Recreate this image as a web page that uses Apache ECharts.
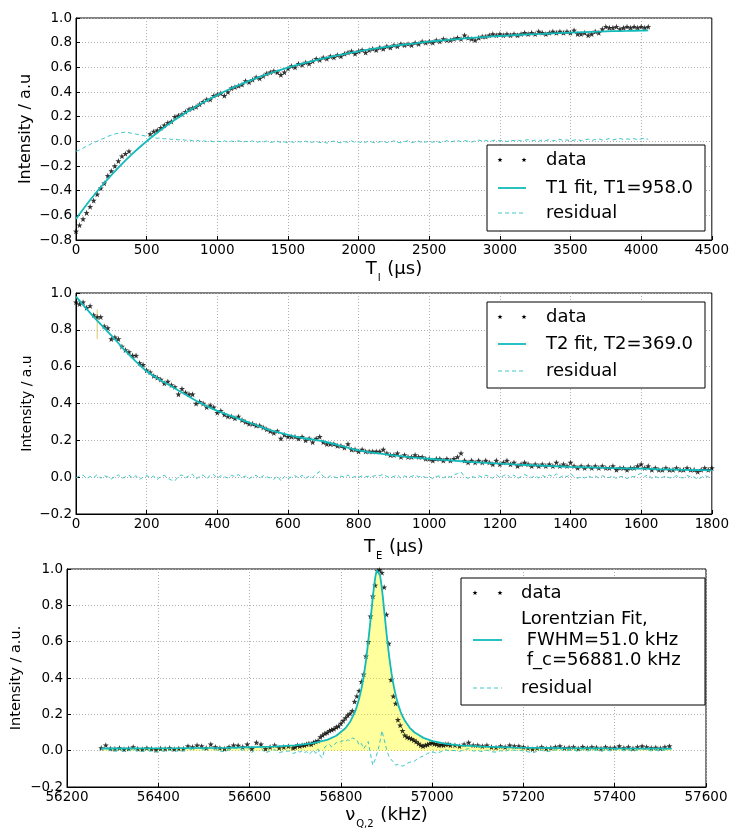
<!DOCTYPE html>
<html><head><meta charset="utf-8">
<script src="https://cdn.jsdelivr.net/npm/echarts/dist/echarts.min.js"></script>
<style>html,body{margin:0;padding:0;background:#fff}#c{width:732px;height:830px}</style>
</head><body><div id="c"></div>
<script>
// ---------- Plot 1: T1 (inversion recovery) ----------
const tiX = [0,25,50,75,100,125,150,175,200,225,250,275,300,325,350,375,
525,550,575,600,625,650,675,700,725,750,775,800,825,850,875,900,925,950,975,1000,
1025,1050,1075,1100,1125,1150,1175,1200,1225,1250,1275,1300,1325,1350,1375,1400,1425,1450,1475,1500,
1525,1550,1575,1600,1625,1650,1675,1700,1725,1750,1775,1800,1825,1850,1875,1900,1925,1950,1975,2000,
2025,2050,2075,2100,2125,2150,2175,2200,2225,2250,2275,2300,2325,2350,2375,2400,2425,2450,2475,2500,
2525,2550,2575,2600,2625,2650,2675,2700,2725,2750,2775,2800,2825,2850,2875,2900,2925,2950,2975,3000,
3025,3050,3075,3100,3125,3150,3175,3200,3225,3250,3275,3300,3325,3350,3375,3400,3425,3450,3475,3500,
3525,3550,3575,3600,3625,3650,3675,3700,3725,3750,3775,3800,3825,3850,3875,3900,3925,3950,3975,4000,
4025,4050];
const tiData = [-0.73,-0.68,-0.63,-0.58,-0.53,-0.48,-0.43,-0.38,-0.34,-0.28,-0.24,-0.20,-0.16,-0.12,-0.10,-0.08,
0.06,0.08,0.09,0.11,0.13,0.15,0.16,0.20,0.21,0.22,0.24,0.26,0.27,0.28,0.30,0.32,0.34,0.34,0.37,0.38,
0.39,0.37,0.40,0.43,0.44,0.45,0.46,0.49,0.48,0.50,0.52,0.51,0.53,0.55,0.56,0.57,0.56,0.54,0.56,0.59,
0.61,0.60,0.63,0.62,0.64,0.63,0.65,0.67,0.66,0.68,0.67,0.69,0.68,0.70,0.69,0.71,0.72,0.73,0.71,0.73,
0.74,0.72,0.74,0.75,0.74,0.76,0.75,0.77,0.76,0.78,0.77,0.79,0.78,0.79,0.78,0.80,0.79,0.81,0.80,0.81,
0.80,0.82,0.81,0.83,0.82,0.82,0.83,0.84,0.83,0.86,0.84,0.83,0.82,0.84,0.85,0.85,0.86,0.87,0.86,0.87,
0.86,0.87,0.86,0.87,0.86,0.87,0.88,0.87,0.88,0.87,0.89,0.88,0.87,0.88,0.89,0.88,0.89,0.88,0.89,0.88,
0.90,0.87,0.87,0.88,0.86,0.87,0.89,0.88,0.91,0.93,0.92,0.92,0.93,0.91,0.92,0.93,0.92,0.93,0.92,0.93,
0.92,0.93];
const tiResid = [-0.08,-0.07,-0.055,-0.04,-0.025,-0.01,0.0,0.015,0.025,0.04,0.05,0.06,0.065,0.07,0.075,0.07,
0.035,0.03,0.025,0.028,0.02,0.024,0.015,0.02,0.012,0.016,0.008,0.012,0.004,0.01,0.002,0.006,-0.002,0.004,-0.004,0.002,
-0.003,0.005,-0.006,0.002,-0.004,0.006,-0.008,0.0,-0.005,0.004,-0.01,-0.002,-0.006,0.003,-0.009,-0.004,0.002,-0.01,-0.005,-0.012,
-0.004,-0.01,-0.002,-0.008,0.002,-0.012,-0.006,0.0,-0.01,-0.004,-0.014,-0.006,0.002,-0.008,-0.012,-0.002,-0.008,0.004,-0.01,-0.004,
-0.012,-0.006,0.002,-0.008,-0.014,-0.004,0.003,-0.01,-0.006,0.004,-0.008,-0.012,-0.002,0.004,-0.01,-0.004,0.002,-0.012,-0.006,0.0,
-0.008,0.003,-0.01,-0.004,0.005,-0.006,0.002,0.008,-0.004,0.006,0.0,-0.006,0.004,0.01,0.002,0.008,-0.002,0.006,0.012,0.004,
0.008,-0.002,0.01,0.004,0.012,0.002,0.008,0.014,0.004,0.01,0.0,0.012,0.006,0.014,0.004,0.01,0.016,0.006,0.012,0.002,
0.01,0.016,0.006,0.012,0.018,0.008,0.014,0.02,0.01,0.016,0.022,0.012,0.018,0.024,0.014,0.02,0.016,0.022,0.012,0.02,
0.024,0.016];
const tiFitX = [0,100,200,300,400,500,600,700,800,900,1000,1100,1200,1300,1400,1500,1600,1700,1800,1900,2000,
2100,2200,2300,2400,2500,2600,2700,2800,2900,3000,3100,3200,3300,3400,3500,3600,3700,3800,3900,4000,4050];
const tiFitY = [-0.630,-0.476,-0.338,-0.213,-0.100,0.001,0.092,0.175,0.249,0.315,0.375,0.430,0.478,0.522,0.562,0.598,0.630,0.659,0.685,0.708,0.730,
0.749,0.766,0.781,0.795,0.808,0.819,0.829,0.839,0.847,0.854,0.861,0.867,0.872,0.877,0.882,0.886,0.889,0.893,0.895,0.898,0.899];

// ---------- Plot 2: T2 (echo decay) ----------
const teX = [0,10,20,30,40,50,60,70,80,90,100,110,120,130,140,150,160,170,180,190,
200,210,220,230,240,250,260,270,280,290,300,310,320,330,340,350,360,370,380,390,
400,410,420,430,440,450,460,470,480,490,500,510,520,530,540,550,560,570,580,590,
600,610,620,630,640,650,660,670,680,690,700,710,720,730,740,750,760,770,780,790,
800,810,820,830,840,850,860,870,880,890,900,910,920,930,940,950,960,970,980,990,
1000,1010,1020,1030,1040,1050,1060,1070,1080,1090,1100,1110,1120,1130,1140,1150,1160,1170,1180,1190,
1200,1210,1220,1230,1240,1250,1260,1270,1280,1290,1300,1310,1320,1330,1340,1350,1360,1370,1380,1390,
1400,1410,1420,1430,1440,1450,1460,1470,1480,1490,1500,1510,1520,1530,1540,1550,1560,1570,1580,1590,
1600,1610,1620,1630,1640,1650,1660,1670,1680,1690,1700,1710,1720,1730,1740,1750,1760,1770,1780,1790,1800];
const teData = [0.95,0.94,0.95,0.92,0.93,0.88,0.87,0.87,0.82,0.81,0.75,0.76,0.75,0.71,0.69,0.68,0.66,0.66,0.62,0.61,
0.58,0.57,0.55,0.54,0.53,0.51,0.52,0.50,0.49,0.45,0.48,0.46,0.45,0.45,0.40,0.41,0.40,0.38,0.39,0.38,
0.35,0.36,0.34,0.33,0.33,0.32,0.33,0.31,0.30,0.29,0.29,0.28,0.28,0.27,0.26,0.25,0.24,0.25,0.21,0.23,
0.22,0.22,0.22,0.21,0.22,0.20,0.21,0.19,0.21,0.22,0.19,0.18,0.18,0.18,0.17,0.17,0.16,0.18,0.15,0.15,
0.14,0.15,0.14,0.14,0.14,0.14,0.14,0.15,0.13,0.12,0.12,0.13,0.11,0.12,0.11,0.11,0.12,0.11,0.11,0.10,
0.10,0.09,0.10,0.10,0.09,0.10,0.09,0.10,0.11,0.13,0.09,0.08,0.09,0.08,0.09,0.08,0.09,0.08,0.07,0.09,
0.07,0.08,0.09,0.07,0.08,0.06,0.07,0.08,0.07,0.06,0.07,0.06,0.07,0.06,0.07,0.06,0.08,0.06,0.07,0.06,
0.08,0.06,0.05,0.06,0.05,0.06,0.05,0.06,0.05,0.06,0.05,0.05,0.06,0.04,0.05,0.05,0.04,0.05,0.05,0.06,
0.07,0.05,0.06,0.04,0.05,0.04,0.04,0.05,0.04,0.04,0.05,0.04,0.04,0.05,0.04,0.04,0.03,0.04,0.05,0.04,0.05];
const teResid = [-0.004,0.006,0.012,-0.008,0.004,-0.002,0.014,-0.006,0.008,0.002,
-0.01,0.004,0.012,-0.006,0.002,0.01,-0.004,0.008,-0.012,0.0,
0.01,-0.004,0.006,-0.012,0.004,0.01,-0.006,-0.016,-0.02,0.006,
0.012,-0.004,0.008,0.016,-0.01,0.004,0.012,-0.008,0.01,0.014,
-0.006,0.008,0.002,-0.004,0.01,0.004,0.014,-0.002,0.006,-0.008,
0.004,0.01,-0.006,0.008,0.002,-0.004,-0.012,0.006,-0.02,0.004,
-0.008,0.002,0.008,-0.004,0.01,-0.006,0.006,-0.002,0.018,0.03,
0.004,-0.006,0.008,0.002,-0.004,0.006,0.0,0.012,-0.004,0.004,
-0.002,0.008,0.002,0.006,0.004,0.01,0.008,0.016,0.004,-0.002,
0.004,0.012,-0.006,0.006,0.0,0.004,0.012,0.002,0.006,-0.002,
0.002,-0.008,0.004,0.006,-0.004,0.008,0.0,0.012,0.02,0.028,
0.002,-0.006,0.004,-0.002,0.008,0.0,0.01,0.004,-0.006,0.014,
-0.004,0.008,0.016,-0.004,0.012,-0.008,0.004,0.014,0.006,-0.002,
0.008,-0.004,0.01,0.0,0.012,0.002,0.018,-0.002,0.01,0.002,
0.02,0.002,-0.006,0.004,-0.004,0.008,-0.002,0.006,-0.004,0.008,
0.0,-0.002,0.01,-0.01,0.002,0.004,-0.008,0.004,0.002,0.012,
0.022,0.004,0.014,-0.006,0.004,-0.004,-0.002,0.008,-0.004,-0.002,
0.008,-0.002,-0.004,0.01,0.0,0.001,-0.012,-0.002,0.01,0.0,0.012];
const teFitX = [0,50,100,150,200,250,300,350,400,450,500,550,600,650,700,750,800,850,900,950,
1000,1050,1100,1150,1200,1250,1300,1350,1400,1450,1500,1550,1600,1650,1700,1750,1800];
const teFitY = [0.98,0.87,0.77,0.665,0.575,0.515,0.46,0.405,0.36,0.325,0.29,0.255,0.23,0.21,0.195,0.17,0.145,0.13,0.118,0.108,
0.10,0.092,0.085,0.079,0.073,0.068,0.064,0.06,0.056,0.053,0.05,0.048,0.046,0.043,0.041,0.039,0.037];
const teBarX = [60,60];
const teBarY = [0.75,0.91];

// ---------- Plot 3: NQR line ----------
const nuX = [56275,56285,56295,56305,56315,56325,56335,56345,56355,56365,56375,56385,56395,56405,56415,56425,56435,56445,56455,56465,
56475,56485,56495,56505,56515,56525,56535,56545,56555,56565,56575,56585,56595,56605,56615,56625,56635,56645,56655,56665,56675,56685,56695,
56700,56705,56710,56715,56720,56725,56730,56735,56740,56745,56750,56755,56760,56765,56770,56775,56780,56785,56790,56795,
56800,56805,56810,56815,56820,56825,56830,56835,56840,56845,56850,56855,56860,56865,56870,56875,56880,56885,56890,56895,
56900,56905,56910,56915,56920,56925,56930,56935,56940,56945,56950,56955,56960,56965,56970,56975,56980,56985,56990,56995,
57000,57005,57010,57015,57020,57025,57030,57035,57040,
57050,57060,57070,57080,57090,57100,57110,57120,57130,57140,57150,57160,57170,57180,57190,57200,57210,57220,57230,57240,
57250,57260,57270,57280,57290,57300,57310,57320,57330,57340,57350,57360,57370,57380,57390,57400,57410,57420,57430,57440,
57450,57460,57470,57480,57490,57500,57510,57520];
const nuData = [0.015,0.03,0.012,0.01,0.015,0.008,0.012,0.02,0.01,0.008,0.015,0.01,0.005,0.012,0.01,0.015,0.008,0.012,0.01,0.025,
0.02,0.03,0.025,0.015,0.035,0.02,0.015,0.01,0.02,0.03,0.028,0.02,0.035,0.01,0.045,0.035,0.01,0.02,0.03,0.015,0.02,0.025,0.015,
0.02,0.03,0.025,0.03,0.03,0.035,0.04,0.035,0.045,0.05,0.055,0.075,0.085,0.095,0.10,0.11,0.115,0.12,0.13,0.135,
0.15,0.165,0.18,0.195,0.205,0.22,0.27,0.30,0.33,0.38,0.42,0.52,0.60,0.74,0.85,0.91,0.99,0.995,0.98,0.90,
0.75,0.59,0.39,0.30,0.26,0.17,0.14,0.11,0.085,0.075,0.07,0.065,0.058,0.05,0.04,0.03,0.025,0.03,0.034,0.04,
0.043,0.038,0.036,0.03,0.033,0.03,0.035,0.036,0.03,
0.03,0.025,0.035,0.045,0.03,0.03,0.025,0.03,0.02,0.018,0.025,0.02,0.03,0.025,0.025,0.02,0.015,0.008,0.015,0.02,
0.012,0.016,0.02,0.025,0.015,0.018,0.02,0.012,0.022,0.015,0.02,0.018,0.012,0.02,0.015,0.018,0.025,0.015,0.02,0.012,
0.02,0.025,0.02,0.015,0.018,0.013,0.02,0.025];
const nuResid = [0.005,0.015,0.0,-0.003,0.003,-0.005,0.0,0.008,-0.003,-0.005,0.002,-0.003,-0.008,0.0,-0.003,0.002,-0.005,0.0,-0.003,0.012,
0.006,0.016,0.01,0.0,0.02,0.005,-0.002,-0.006,0.004,0.013,0.01,0.002,0.017,-0.01,0.025,0.015,-0.012,-0.002,0.006,-0.01,-0.005,-0.002,-0.015,
-0.012,0.0,-0.008,-0.002,-0.01,-0.005,-0.02,-0.01,0.005,-0.015,0.01,-0.03,-0.04,0.02,0.03,0.035,0.02,0.03,0.045,0.04,
0.05,0.055,0.05,0.06,0.055,0.07,0.065,0.06,0.03,0.04,0.01,0.03,0.05,-0.02,-0.08,-0.05,-0.01,0.04,0.11,0.06,
0.01,-0.03,-0.05,-0.06,-0.08,-0.075,-0.08,-0.085,-0.08,-0.07,-0.065,-0.06,-0.06,-0.05,-0.045,-0.035,-0.03,-0.025,-0.015,-0.01,
-0.005,-0.01,-0.015,-0.01,-0.005,0.0,0.005,0.0,0.002,
0.0,-0.004,0.005,0.012,-0.002,0.0,-0.005,0.003,-0.006,-0.008,0.0,-0.004,0.006,0.002,0.003,-0.002,-0.006,-0.012,-0.004,0.002,
-0.006,-0.002,0.003,0.008,-0.002,0.001,0.004,-0.004,0.006,-0.002,0.004,0.002,-0.004,0.004,-0.001,0.002,0.009,-0.001,0.004,-0.004,
0.004,0.009,0.004,-0.001,0.002,-0.003,0.004,0.009];
const nuFitX = [56275,56350,56450,56550,56650,56700,56740,56770,56790,56810,56820,56830,56835,56840,56845,56850,56855,56860,56865,56870,
56873,56876,56879,56881,56883,56886,56889,56892,56896,56901,56906,56911,56916,56921,56926,56931,56936,56941,56951,56961,
56981,57001,57031,57061,57111,57181,57281,57381,57525];
const nuFitY = [0.0118,0.0123,0.0135,0.0158,0.0219,0.0293,0.0414,0.0596,0.0821,0.1231,0.1573,0.208,0.2427,0.2862,0.3408,0.4095,0.4954,0.5999,0.7203,0.8447,
0.9113,0.9634,0.9939,1.0,0.9939,0.9634,0.9113,0.8447,0.7455,0.623,0.5148,0.4253,0.3533,0.2961,0.2506,0.2143,0.1852,0.1615,0.126,0.1013,
0.0704,0.0528,0.0378,0.0295,0.022,0.0171,0.014,0.0126,0.0116];

// ---------- styling ----------
const FONT = 'DejaVu Sans';
const FIT = '#12baba', RES = '#3ec6c6';
const STAR = 'path://M0,-10L2.35,-3.24L9.51,-3.09L3.8,1.24L5.88,8.09L0,4L-5.88,8.09L-3.8,1.24L-9.51,-3.09L-2.35,-3.24Z';

function pairs(xs, ys){ const n = Math.min(xs.length, ys.length); const o = []; for (let i = 0; i < n; i++) o.push([xs[i], ys[i]]); return o; }
function yFmt(v){ const a = Math.abs(v); return (v < -1e-9 ? '\u2212' : '') + a.toFixed(1); }

const splitLine = {show:true, lineStyle:{color:'#b0b0b0', type:[1,2], width:1}};
function xAx(i, min, max, step, name, gap){
  return {type:'value', gridIndex:i, min:min, max:max, interval:step,
    name:name, nameLocation:'middle', nameGap:gap, nameMoveOverlap:false,
    nameTextStyle:{color:'#000', fontFamily:FONT, rich:{
      m:{fontSize:18, fontFamily:FONT, color:'#000', lineHeight:20, verticalAlign:'top'},
      s:{fontSize:10, fontFamily:FONT, color:'#000', lineHeight:10, padding:[13,1,0,1], verticalAlign:'top'}}},
    axisLine:{onZero:false, lineStyle:{color:'#000', width:1}},
    axisTick:{inside:true, length:4, lineStyle:{color:'#000'}},
    axisLabel:{color:'#000', fontSize:13.5, fontFamily:FONT, margin:3, showMinLabel:true, showMaxLabel:true,
      formatter: v => String(Math.round(v))},
    splitLine:splitLine};
}
function yAx(i, min, max, name, gap, fs){
  return {type:'value', gridIndex:i, min:min, max:max, interval:0.2,
    name:name, nameLocation:'middle', nameGap:gap, nameRotate:90, nameMoveOverlap:false,
    nameTextStyle:{color:'#000', fontFamily:FONT, fontSize:fs},
    axisLine:{show:true, onZero:false, lineStyle:{color:'#000', width:1}},
    axisTick:{show:true, inside:true, length:4, lineStyle:{color:'#000'}},
    axisLabel:{color:'#000', fontSize:13.5, fontFamily:FONT, margin:4, showMinLabel:true, showMaxLabel:true, formatter:yFmt},
    splitLine:splitLine};
}
function dataSeries(i, xs, ys, name){
  return {type:'scatter', name:name, xAxisIndex:i, yAxisIndex:i, data:pairs(xs, ys), symbol:STAR, symbolSize:6,
    itemStyle:{color:'#000'}, z:3, silent:true};
}
function fitSeries(i, xs, ys, smooth){
  return {type:'line', xAxisIndex:i, yAxisIndex:i, data:pairs(xs, ys), showSymbol:false, smooth:smooth,
    lineStyle:{color:FIT, width:1.8}, z:4, silent:true};
}
function resSeries(i, xs, ys){
  return {type:'line', xAxisIndex:i, yAxisIndex:i, data:pairs(xs, ys), showSymbol:false,
    lineStyle:{color:RES, width:1, type:[4,3]}, z:5, silent:true};
}

// ---------- legends (graphic) ----------
function starShape(cx, cy, r){
  const pts = [];
  for (let k = 0; k < 10; k++){ const a = -Math.PI/2 + k*Math.PI/5; const rr = (k % 2) ? r*0.42 : r; pts.push([cx + rr*Math.cos(a), cy + rr*Math.sin(a)]); }
  return {type:'polygon', shape:{points:pts}, style:{fill:'#000'}, z:102};
}
function box(x, y, w, h){ return {type:'rect', shape:{x:x, y:y, width:w, height:h}, style:{fill:'#fff', stroke:'#000', lineWidth:1}, z:100}; }
function txt(x, y, t){ return {type:'text', x:x, y:y, style:{text:t, fill:'#000', fontSize:18, fontFamily:FONT, verticalAlign:'middle', align:'left'}, z:102}; }
function ln(x1, x2, y, dashed){ return {type:'line', shape:{x1:x1, y1:y, x2:x2, y2:y}, style:{stroke: dashed ? RES : FIT, lineWidth: dashed ? 1 : 1.8, lineDash: dashed ? [4,3] : null}, z:102}; }

const graphics = [
  box(487, 145, 218, 86), starShape(500, 160, 2.6), starShape(524, 160, 2.6), txt(546, 160, 'data'),
  ln(498, 526, 188, false), txt(546, 188, 'T1 fit, T1=958.0'),
  ln(498, 526, 213, true), txt(546, 213, 'residual'),

  box(487, 302, 218, 86), starShape(500, 317, 2.6), starShape(524, 317, 2.6), txt(546, 317, 'data'),
  ln(498, 526, 344, false), txt(546, 344, 'T2 fit, T2=369.0'),
  ln(498, 526, 371, true), txt(546, 371, 'residual'),

  box(461, 578, 244, 127), starShape(475, 593, 2.6), starShape(500, 593, 2.6), txt(521, 593, 'data'),
  txt(521, 619, 'Lorentzian Fit,'), txt(521, 640, ' FWHM=51.0 kHz'), txt(521, 660, ' f_c=56881.0 kHz'),
  ln(473, 502, 640, false),
  ln(473, 502, 688, true), txt(521, 688, 'residual')
];

const option = {
  animation:false,
  backgroundColor:'#fff',
  grid:[
    {left:76, top:18, width:639, height:222, show:true, borderColor:'#000', borderWidth:1},
    {left:76, top:293, width:638, height:221, show:true, borderColor:'#000', borderWidth:1},
    {left:67, top:569, width:639, height:222, show:true, borderColor:'#000', borderWidth:1}
  ],
  xAxis:[
    xAx(0, 0, 4500, 500, '{m|T}{s|I}{m| (µs)}', 20),
    xAx(1, 0, 1800, 200, '{m|T}{s|E}{m| (µs)}', 24),
    xAx(2, 56200, 57600, 200, '{m|ν}{s|Q,2}{m| (kHz)}', 19)
  ],
  yAxis:[
    yAx(0, -0.8, 1.0, 'Intensity / a.u', 42, 16),
    yAx(1, -0.2, 1.0, 'Intensity / a.u', 42, 14),
    yAx(2, -0.2, 1.0, 'Intensity / a.u.', 43, 14.5)
  ],
  series:[
    dataSeries(0, tiX, tiData, 'data'),
    fitSeries(0, tiFitX, tiFitY, 0.3),
    resSeries(0, tiX, tiResid),

    {type:'line', xAxisIndex:1, yAxisIndex:1, data:pairs(teBarX, teBarY), showSymbol:false,
      lineStyle:{color:'#d9c96a', width:1}, z:2, silent:true},
    dataSeries(1, teX, teData, 'data'),
    fitSeries(1, teFitX, teFitY, 0.3),
    resSeries(1, teX, teResid),

    {type:'line', xAxisIndex:2, yAxisIndex:2, data:pairs(nuFitX, nuFitY), showSymbol:false,
      lineStyle:{width:0, opacity:0}, areaStyle:{color:'rgba(255,255,0,0.55)', origin:0}, z:1, silent:true},
    dataSeries(2, nuX, nuData, 'data'),
    fitSeries(2, nuFitX, nuFitY, false),
    resSeries(2, nuX, nuResid)
  ],
  graphic:graphics
};

const chart = echarts.init(document.getElementById('c'), null, {renderer:'canvas'});
chart.setOption(option);
</script>
</body></html>
